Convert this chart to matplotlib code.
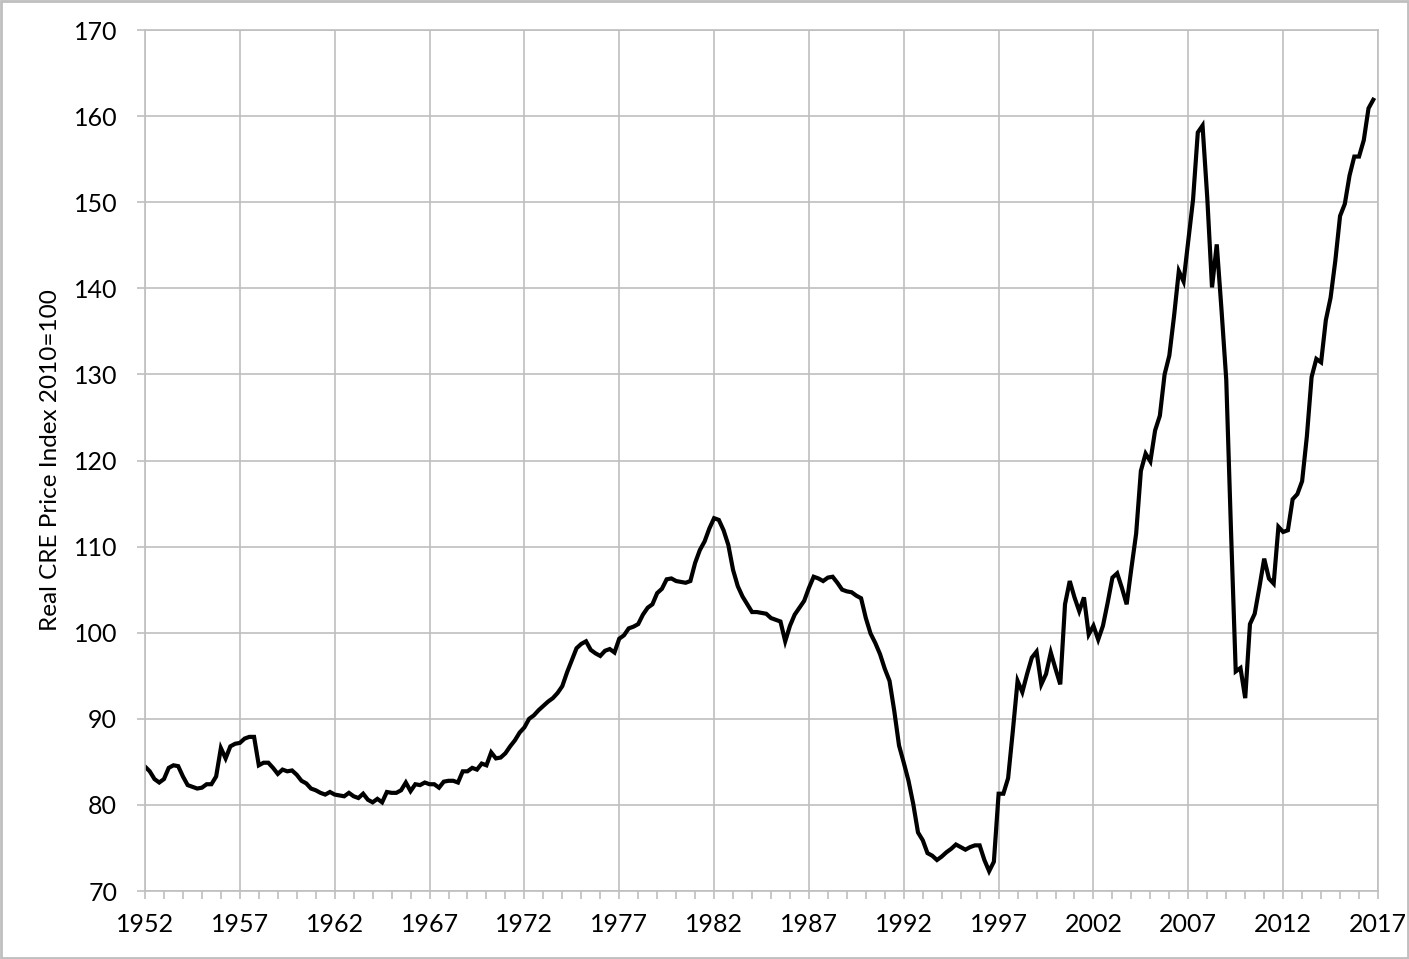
import matplotlib
matplotlib.use("Agg")
import matplotlib.pyplot as plt
from matplotlib.patches import Rectangle
from matplotlib.ticker import MultipleLocator
import numpy as np

# quarterly real CRE price index, 1952Q1 .. 2016Q4 (2010=100)
start_year = 1952
cre_index = [
    84.45, 83.9, 83.0, 82.6,     # 1952
    83.0, 84.3, 84.6, 84.5,      # 1953
    83.3, 82.3, 82.1, 81.9,      # 1954
    82.0, 82.4, 82.4, 83.3,      # 1955
    86.6, 85.4, 86.8, 87.1,      # 1956
    87.2, 87.7, 87.9, 87.9,      # 1957
    84.6, 84.9, 84.9, 84.3,      # 1958
    83.6, 84.1, 83.9, 84.0,      # 1959
    83.5, 82.8, 82.5, 81.9,      # 1960
    81.7, 81.4, 81.2, 81.5,      # 1961
    81.2, 81.1, 81.0, 81.4,      # 1962
    81.0, 80.8, 81.3, 80.6,      # 1963
    80.3, 80.7, 80.3, 81.5,      # 1964
    81.4, 81.4, 81.7, 82.6,      # 1965
    81.6, 82.4, 82.3, 82.6,      # 1966
    82.4, 82.4, 82.0, 82.7,      # 1967
    82.8, 82.8, 82.6, 83.9,      # 1968
    83.9, 84.3, 84.1, 84.8,      # 1969
    84.6, 86.1, 85.4, 85.5,      # 1970
    86.0, 86.8, 87.5, 88.4,      # 1971
    89.0, 90.0, 90.4, 91.0,      # 1972
    91.5, 92.0, 92.4, 93.0,      # 1973
    93.8, 95.4, 96.8, 98.2,      # 1974
    98.7, 99.0, 98.0, 97.6,      # 1975
    97.3, 97.9, 98.1, 97.7,      # 1976
    99.3, 99.7, 100.5, 100.7,    # 1977
    101.0, 102.1, 102.9, 103.3,  # 1978
    104.6, 105.1, 106.2, 106.3,  # 1979
    106.0, 105.9, 105.8, 106.0,  # 1980
    108.1, 109.6, 110.6, 112.1,  # 1981
    113.3, 113.1, 111.9, 110.2,  # 1982
    107.3, 105.4, 104.2, 103.3,  # 1983
    102.4, 102.4, 102.3, 102.2,  # 1984
    101.7, 101.5, 101.3, 99.0,   # 1985
    100.8, 102.1, 102.9, 103.7,  # 1986
    105.2, 106.5, 106.3, 106.0,  # 1987
    106.4, 106.5, 105.8, 105.0,  # 1988
    104.8, 104.7, 104.3, 104.0,  # 1989
    101.7, 99.9, 98.8, 97.5,     # 1990
    95.8, 94.4, 90.9, 86.9,      # 1991
    84.9, 82.8, 80.1, 76.8,      # 1992
    75.9, 74.4, 74.1, 73.6,      # 1993
    74.0, 74.5, 74.9, 75.4,      # 1994
    75.1, 74.8, 75.1, 75.3,      # 1995
    75.3, 73.6, 72.3, 73.4,      # 1996
    81.3, 81.3, 83.1, 88.6,      # 1997
    94.4, 93.1, 95.2, 97.1,      # 1998
    97.8, 94.0, 95.2, 97.7,      # 1999
    95.8, 94.0, 103.3, 106.0,    # 2000
    104.1, 102.5, 104.1, 99.8,   # 2001
    100.8, 99.2, 100.8, 103.5,   # 2002
    106.4, 106.9, 105.2, 103.3,  # 2003
    107.5, 111.5, 118.8, 120.8,  # 2004
    119.9, 123.5, 125.2, 130.0,  # 2005
    132.2, 136.8, 142.0, 140.8,  # 2006
    145.5, 150.3, 158.1, 158.9,  # 2007
    150.5, 140.1, 145.1, 137.5,  # 2008
    129.4, 111.9, 95.5, 95.9,    # 2009
    92.4, 101.0, 102.2, 105.3,   # 2010
    108.6, 106.3, 105.7, 112.3,  # 2011
    111.7, 111.9, 115.5, 116.1,  # 2012
    117.6, 122.8, 129.7, 131.8,  # 2013
    131.4, 136.3, 138.9, 143.2,  # 2014
    148.4, 149.8, 153.1, 155.3,  # 2015
    155.3, 157.2, 160.9, 161.9,  # 2016
]
quarters = start_year + np.arange(len(cre_index)) * 0.25

x_ticks = list(range(1952, 2018, 5))
y_label = "Real CRE Price Index 2010=100"

plt.rcParams['font.family'] = ['Lato', 'DejaVu Sans']
grid_gray = '#BFBFBF'

fig = plt.figure(figsize=(14.09, 9.59), dpi=100)
ax = fig.add_axes([145/1409, 1 - 891/959, (1378 - 145)/1409, (891 - 30)/959])

ax.plot(quarters, cre_index, color='black', lw=3.0, solid_joinstyle='miter')

ax.set_xlim(1952, 2017)
ax.set_ylim(70, 170)
ax.set_xticks(x_ticks)
ax.xaxis.set_minor_locator(MultipleLocator(1))
ax.yaxis.set_major_locator(MultipleLocator(10))

ax.grid(True, which='major', color=grid_gray, lw=1.2)
ax.set_axisbelow(True)
for s in ax.spines.values():
    s.set_color(grid_gray)
    s.set_linewidth(1.2)

ax.tick_params(axis='both', which='both', direction='out', color=grid_gray,
               width=1.2, length=6, labelsize=18)
ax.tick_params(axis='y', pad=14)
ax.tick_params(axis='x', pad=10)
ax.tick_params(axis='x', which='minor', length=6)

ax.set_ylabel(y_label, fontsize=17.5, labelpad=9)

# thin grey frame round the whole picture
fig.patches.append(Rectangle((0.001, 0.001), 0.998, 0.998, transform=fig.transFigure,
                             fill=False, edgecolor=grid_gray, lw=2))

fig.savefig('out.png', dpi=100)
